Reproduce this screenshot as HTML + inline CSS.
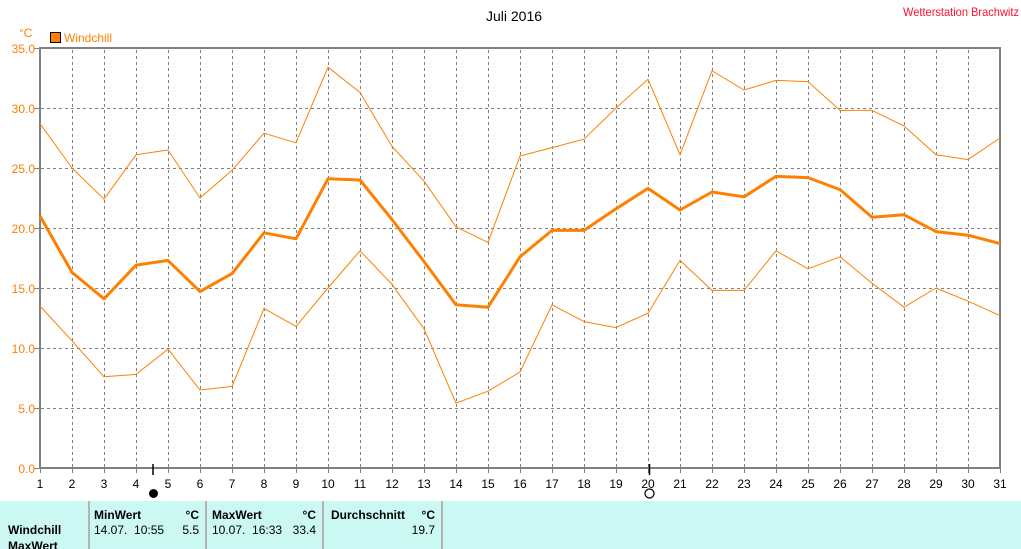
<!DOCTYPE html>
<html><head><meta charset="utf-8"><style>
html,body{margin:0;padding:0;background:#fff;width:1021px;height:549px;overflow:hidden}
svg{display:block}
text{font-family:"Liberation Sans",Arial,sans-serif}
</style></head><body>
<svg width="1021" height="549" viewBox="0 0 1021 549" xmlns="http://www.w3.org/2000/svg">
<rect x="0" y="0" width="1021" height="549" fill="#fff"/>
<text x="514" y="21" font-size="14" text-anchor="middle" fill="#000">Juli 2016</text>
<text x="1019" y="16" font-size="12" text-anchor="end" fill="#ff1030" textLength="116" lengthAdjust="spacingAndGlyphs">Wetterstation Brachwitz</text>
<text x="19" y="37" font-size="12" fill="#ff8000">°C</text>
<rect x="50.5" y="32.5" width="10" height="10" fill="#ff8000" stroke="#000" stroke-width="1"/>
<text x="64" y="42" font-size="12" fill="#ff8000">Windchill</text>
<g stroke="#808080" stroke-width="1" stroke-dasharray="3,3" fill="none">
<path d="M72.5 50V468M104.5 50V468M136.5 50V468M168.5 50V468M200.5 50V468M232.5 50V468M264.5 50V468M296.5 50V468M328.5 50V468M360.5 50V468M392.5 50V468M424.5 50V468M456.5 50V468M488.5 50V468M520.5 50V468M552.5 50V468M584.5 50V468M616.5 50V468M648.5 50V468M680.5 50V468M712.5 50V468M744.5 50V468M776.5 50V468M808.5 50V468M840.5 50V468M872.5 50V468M904.5 50V468M936.5 50V468M968.5 50V468"/>
<path d="M41 108.5H999M41 168.5H999M41 228.5H999M41 288.5H999M41 348.5H999M41 408.5H999"/>
</g>
<g stroke="#808080" stroke-width="2" fill="none">
<path d="M40 47V469M39 48H1001M1000 47V469M39 468H1001"/>
</g>
<g stroke="#808080" stroke-width="1">
<path d="M34 48.5H40M34 108.5H40M34 168.5H40M34 228.5H40M34 288.5H40M34 348.5H40M34 408.5H40M34 468.5H40"/>
<path d="M40.5 468V473M72.5 468V473M104.5 468V473M136.5 468V473M168.5 468V473M200.5 468V473M232.5 468V473M264.5 468V473M296.5 468V473M328.5 468V473M360.5 468V473M392.5 468V473M424.5 468V473M456.5 468V473M488.5 468V473M520.5 468V473M552.5 468V473M584.5 468V473M616.5 468V473M648.5 468V473M680.5 468V473M712.5 468V473M744.5 468V473M776.5 468V473M808.5 468V473M840.5 468V473M872.5 468V473M904.5 468V473M936.5 468V473M968.5 468V473M1000.5 468V473"/>
</g>
<g font-size="12" fill="#ff8000" text-anchor="end">
<text x="35" y="53">35.0</text><text x="35" y="113">30.0</text><text x="35" y="173">25.0</text><text x="35" y="233">20.0</text><text x="35" y="293">15.0</text><text x="35" y="353">10.0</text><text x="35" y="413">5.0</text><text x="35" y="473">0.0</text>
</g>
<g font-size="12" fill="#000" text-anchor="middle">
<text x="40" y="488">1</text><text x="72" y="488">2</text><text x="104" y="488">3</text><text x="136" y="488">4</text><text x="168" y="488">5</text><text x="200" y="488">6</text><text x="232" y="488">7</text><text x="264" y="488">8</text><text x="296" y="488">9</text><text x="328" y="488">10</text><text x="360" y="488">11</text><text x="392" y="488">12</text><text x="424" y="488">13</text><text x="456" y="488">14</text><text x="488" y="488">15</text><text x="520" y="488">16</text><text x="552" y="488">17</text><text x="584" y="488">18</text><text x="616" y="488">19</text><text x="648" y="488">20</text><text x="680" y="488">21</text><text x="712" y="488">22</text><text x="744" y="488">23</text><text x="776" y="488">24</text><text x="808" y="488">25</text><text x="840" y="488">26</text><text x="872" y="488">27</text><text x="904" y="488">28</text><text x="936" y="488">29</text><text x="968" y="488">30</text><text x="1000" y="488">31</text>
</g>
<g stroke="#000" stroke-width="1.5">
<path d="M153 464V475M649.5 464V475"/>
</g>
<circle cx="153.5" cy="493.5" r="4.5" fill="#000"/>
<circle cx="649.5" cy="493.5" r="4.5" fill="none" stroke="#000" stroke-width="1.3"/>
<g fill="none" stroke="#ff8000" stroke-linejoin="round">
<polyline stroke-width="1" points="40,123.6 72,168 104,199.2 136,154.8 168,150 200,198 232,170.4 264,133.2 296,142.8 328,67.2 360,92.4 392,146.4 424,181.2 456,226.8 488,242.4 520,156 552,147.6 584,139.2 616,108 648,79.2 680,154.8 712,70.8 744,90 776,80.4 808,81.6 840,110.4 872,110.4 904,126 936,154.8 968,159.6 1000,138"/>
<polyline stroke-width="3" points="40,216 72,272.4 104,298.8 136,265.2 168,260.4 200,291.6 232,273.6 264,232.8 296,238.8 328,178.8 360,180 392,219.6 424,261.6 456,304.8 488,307.2 520,256.8 552,230.4 584,230.4 616,208.8 648,188.4 680,210 712,192 744,196.8 776,176.4 808,177.6 840,189.6 872,217.2 904,214.8 936,231.6 968,235.2 1000,243.6"/>
<polyline stroke-width="1" points="40,306 72,340.8 104,376.8 136,374.4 168,349.2 200,390 232,386.4 264,308.4 296,326.4 328,288 360,250.8 392,284.4 424,328.8 456,403.2 488,391.2 520,372 552,304.8 584,321.6 616,327.6 648,313.2 680,260.4 712,290.4 744,290.4 776,250.8 808,268.8 840,256.8 872,283.2 904,307.2 936,288 968,301.2 1000,315.6"/>
</g>
<rect x="0" y="501" width="1021" height="48" fill="#ccf8f4"/>
<g stroke="#b4b4b4" stroke-width="2">
<path d="M89 501V549M206 501V549M323 501V549M442 501V549"/>
</g>
<g font-size="12" fill="#000">
<text x="8" y="534" font-weight="bold">Windchill</text>
<text x="8" y="550" font-weight="bold">MaxWert</text>
<text x="94" y="519" font-weight="bold">MinWert</text>
<text x="199" y="519" font-weight="bold" text-anchor="end">°C</text>
<text x="94" y="534" xml:space="preserve">14.07.  10:55</text>
<text x="199" y="534" text-anchor="end">5.5</text>
<text x="212" y="519" font-weight="bold">MaxWert</text>
<text x="316" y="519" font-weight="bold" text-anchor="end">°C</text>
<text x="212" y="534" xml:space="preserve">10.07.  16:33</text>
<text x="316" y="534" text-anchor="end">33.4</text>
<text x="331" y="519" font-weight="bold">Durchschnitt</text>
<text x="435" y="519" font-weight="bold" text-anchor="end">°C</text>
<text x="435" y="534" text-anchor="end">19.7</text>
</g>
</svg>
</body></html>
